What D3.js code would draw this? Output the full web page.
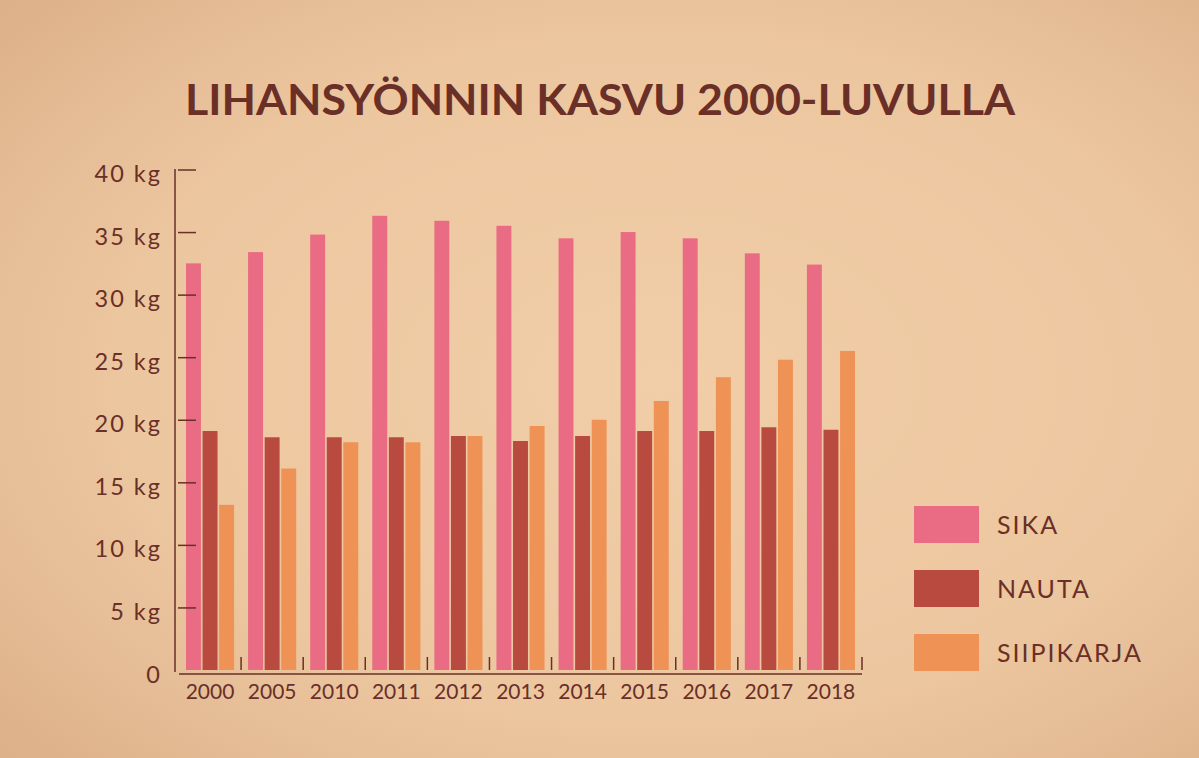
<!DOCTYPE html>
<html>
<head>
<meta charset="utf-8">
<script src="https://cdn.jsdelivr.net/npm/d3@7"></script>
<style>
  html, body { margin: 0; padding: 0; background: #ecc6a0; }
  svg { display: block; }
</style>
</head>
<body>
<svg id="chart" width="1199" height="758"></svg>
<script>
const title = "LIHANSYÖNNIN KASVU 2000-LUVULLA";
const years = ["2000","2005","2010","2011","2012","2013","2014","2015","2016","2017","2018"];
const seriesNames = ["SIKA","NAUTA","SIIPIKARJA"];
const sika       = [32.5, 33.4, 34.8, 36.3, 35.9, 35.5, 34.5, 35.0, 34.5, 33.3, 32.4];
const nauta      = [19.1, 18.6, 18.6, 18.6, 18.7, 18.3, 18.7, 19.1, 19.1, 19.4, 19.2];
const siipikarja = [13.2, 16.1, 18.2, 18.2, 18.7, 19.5, 20.0, 21.5, 23.4, 24.8, 25.5];
const yTicks = [0, 5, 10, 15, 20, 25, 30, 35, 40];
const colors = ["#e96c84", "#b94a3f", "#ee9256"];

const values = [sika, nauta, siipikarja];
const W = 1199, H = 758;
const svg = d3.select("#chart");
const ink = "#6a2f27";
const font = "Lato, 'Open Sans', sans-serif";

// background
const defs = svg.append("defs");
const rg = defs.append("radialGradient").attr("id", "bg").attr("cx", "55%").attr("cy", "50%").attr("r", "75%");
rg.append("stop").attr("offset", "0%").attr("stop-color", "#f1cea8");
rg.append("stop").attr("offset", "60%").attr("stop-color", "#ecc69f");
rg.append("stop").attr("offset", "100%").attr("stop-color", "#dcb089");
svg.append("rect").attr("width", W).attr("height", H).attr("fill", "url(#bg)");

// scales
const x0 = d3.scaleBand().domain(years).range([179, 862]).paddingInner(0).paddingOuter(0);
const x1 = d3.scaleBand().domain(seriesNames).range([7, x0.bandwidth() - 7]).paddingInner(0.1).paddingOuter(0);
const y = d3.scaleLinear().domain([0, 40]).range([670, 169.5]);

// title
svg.append("text")
  .attr("x", 185).attr("y", 115)
  .attr("font-family", font).attr("font-weight", 700).attr("font-size", 42)
  .attr("fill", ink)
  .attr("textLength", 830).attr("lengthAdjust", "spacingAndGlyphs")
  .text(title);

// bars
const groups = svg.append("g").selectAll("g").data(years).join("g")
  .attr("transform", d => `translate(${x0(d)},0)`);
groups.selectAll("rect")
  .data((d, i) => seriesNames.map((s, j) => ({ s, v: values[j][i], c: colors[j] })))
  .join("rect")
  .attr("x", d => x1(d.s))
  .attr("width", x1.bandwidth())
  .attr("y", d => y(d.v))
  .attr("height", d => y(0) - y(d.v))
  .attr("fill", d => d.c);

// y axis
const yAxis = d3.axisRight(y).tickValues(yTicks.filter(t => t > 0)).tickSize(18).tickFormat("");
const gy = svg.append("g").attr("transform", "translate(178,0)").call(yAxis);
gy.select(".domain").remove();
gy.selectAll(".tick line").attr("stroke", ink).attr("stroke-width", 1.5);
svg.append("line").attr("x1", 175).attr("x2", 175).attr("y1", 169).attr("y2", 672)
  .attr("stroke", ink).attr("stroke-width", 1.5);
svg.append("g").selectAll("text").data(yTicks).join("text")
  .attr("x", 162).attr("y", d => y(d) + 12.5)
  .attr("text-anchor", "end")
  .attr("font-family", font).attr("font-size", 23.5).attr("letter-spacing", 2)
  .attr("fill", ink)
  .text(d => d === 0 ? "0" : d + " kg");

// x axis
svg.append("line").attr("x1", 179).attr("x2", 862).attr("y1", 674).attr("y2", 674)
  .attr("stroke", ink).attr("stroke-width", 1.5);
svg.append("g").selectAll("line").data(years).join("line")
  .attr("x1", d => x0(d) + x0.bandwidth()).attr("x2", d => x0(d) + x0.bandwidth())
  .attr("y1", 657).attr("y2", 670)
  .attr("stroke", ink).attr("stroke-width", 1.5);
svg.append("g").selectAll("text").data(years).join("text")
  .attr("x", d => x0(d) + x0.bandwidth() / 2).attr("y", 699)
  .attr("text-anchor", "middle")
  .attr("font-family", font).attr("font-size", 21)
  .attr("fill", ink)
  .text(d => d);

// legend
const lg = svg.append("g").selectAll("g").data(seriesNames).join("g")
  .attr("transform", (d, i) => `translate(914,${506 + i * 64})`);
lg.append("rect").attr("width", 65).attr("height", 37).attr("fill", (d, i) => colors[i]);
lg.append("text").attr("x", 83).attr("y", 28)
  .attr("font-family", font).attr("font-size", 25).attr("letter-spacing", 2)
  .attr("fill", ink)
  .text(d => d);
</script>
</body>
</html>
